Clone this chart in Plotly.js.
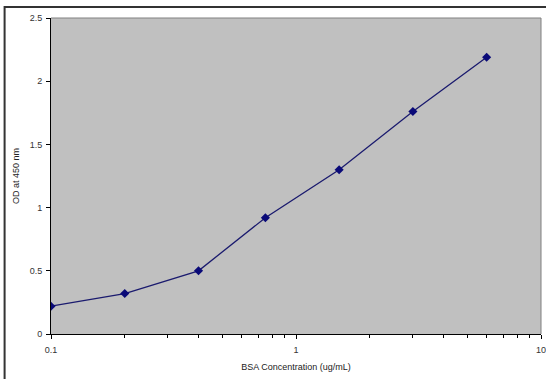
<!DOCTYPE html>
<html>
<head>
<meta charset="utf-8">
<script src="https://cdn.plot.ly/plotly-3.0.1.min.js"></script>
<style>
html,body{margin:0;padding:0;background:#fff;}
#chart{width:546px;height:379px;}
</style>
</head>
<body>
<div id="chart"></div>
<script>
const concentration = [0.1, 0.2, 0.4, 0.75, 1.5, 3, 6];
const od450 = [0.22, 0.32, 0.50, 0.92, 1.30, 1.76, 2.19];
const xTitle = "BSA Concentration (ug/mL)";
const yTitle = "OD at 450 nm";

const trace = {
  x: concentration,
  y: od450,
  type: 'scatter',
  mode: 'lines+markers',
  line: {color: '#1a1a6e', width: 1.3},
  marker: {symbol: 'diamond', size: 7, color: '#0a0a78'},
  hoverinfo: 'skip'
};

const tickFont = {family: 'Liberation Sans, Arial, sans-serif', size: 9, color: '#333'};
const titleFont = {family: 'Liberation Sans, Arial, sans-serif', size: 9, color: '#222'};

const layout = {
  width: 546, height: 379,
  margin: {l: 51, r: 5, t: 18, b: 45},
  paper_bgcolor: '#ffffff',
  plot_bgcolor: '#c0c0c0',
  showlegend: false,
  xaxis: {
    type: 'log',
    range: [-1, 1],
    tickvals: [0.1, 1, 10],
    ticktext: ['0.1', '1', '10'],
    ticks: 'outside', ticklen: 4, tickcolor: '#000', tickwidth: 1,
    ticklabelstandoff: 3,
    ticklabeloverflow: 'allow',
    minor: {ticks: 'outside', ticklen: 3, tickcolor: '#000', dtick: 'D1', showgrid: false},
    showgrid: false, zeroline: false,
    showline: true, linecolor: '#000', linewidth: 1, mirror: false,
    tickfont: tickFont,
    title: {text: xTitle, font: titleFont, standoff: 9}
  },
  yaxis: {
    range: [0, 2.5],
    tickvals: [0, 0.5, 1, 1.5, 2, 2.5],
    ticktext: ['0', '0.5', '1', '1.5', '2', '2.5'],
    ticks: 'outside', ticklen: 4, tickcolor: '#000', tickwidth: 1,
    ticklabelstandoff: 2,
    showgrid: false, zeroline: false,
    showline: true, linecolor: '#000', linewidth: 1,
    tickfont: tickFont,
    title: {text: yTitle, font: titleFont, standoff: 8}
  },
  shapes: [
    {type: 'line', xref: 'paper', yref: 'paper', x0: 0, x1: 1, y0: 1, y1: 1, line: {color: '#808080', width: 1}},
    {type: 'line', xref: 'paper', yref: 'paper', x0: 1, x1: 1, y0: 0, y1: 1, line: {color: '#808080', width: 1}},
    {type: 'rect', xref: 'paper', yref: 'paper', x0: -0.0947, x1: 1.05, y0: -0.2, y1: 1.035, line: {color: '#333', width: 2}, fillcolor: 'rgba(0,0,0,0)', layer: 'below'}
  ]
};

Plotly.newPlot('chart', [trace], layout, {staticPlot: true, displayModeBar: false});
</script>
</body>
</html>
